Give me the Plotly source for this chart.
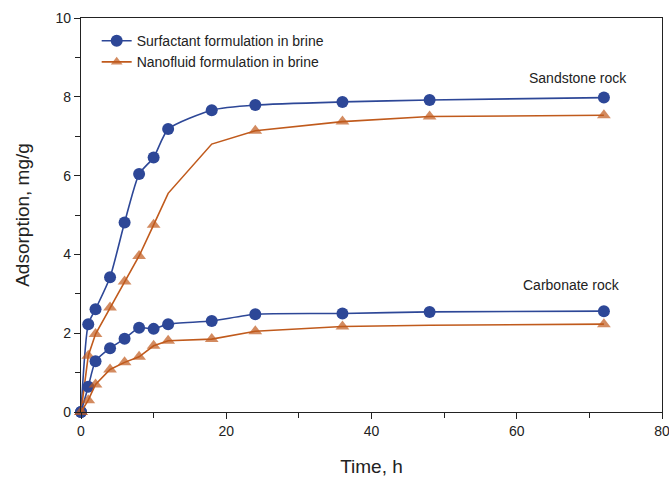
import plotly.graph_objects as go

# Sampling times (h)
time_h = [0, 1, 2, 4, 6, 8, 10, 12, 18, 24, 36, 48, 72]

# Adsorption (mg/g)
sandstone_surfactant = [0, 2.23, 2.61, 3.42, 4.81, 6.04, 6.46, 7.18, 7.66, 7.79, 7.87, 7.92, 7.98]
sandstone_nanofluid = [0, 1.43, 1.98, 2.65, 3.31, 3.96, 4.75, 5.55, 6.80, 7.14, 7.37, 7.50, 7.53]
carbonate_surfactant = [0, 0.64, 1.29, 1.62, 1.86, 2.14, 2.11, 2.23, 2.31, 2.48, 2.50, 2.54, 2.56]
carbonate_nanofluid = [0, 0.30, 0.70, 1.08, 1.26, 1.40, 1.68, 1.81, 1.85, 2.05, 2.17, 2.20, 2.23]

# Points measured without a plotted symbol
sandstone_nano_marked = [True] * 7 + [False, False] + [True] * 4
carbonate_nano_marked = [True] * 11 + [False, True]

BLUE = "#2d4797"
ORANGE = "#c05a1c"
FONT = "Liberation Sans, Arial, sans-serif"

fig = go.Figure()


def add_series(y, color, symbol, size, name, show, shape, marked=None):
    sizes = size if marked is None else [size if m else 0 for m in marked]
    fig.add_trace(go.Scatter(
        x=time_h, y=y, mode="lines+markers", name=name, showlegend=show,
        line=dict(color=color, width=1.6, shape=shape, smoothing=0.6),
        marker=dict(color=color, symbol=symbol, size=sizes,
                    line=dict(width=0)),
        cliponaxis=False,
    ))


add_series(sandstone_surfactant, BLUE, "circle", 12,
           "Surfactant formulation in brine", True, "spline")
add_series(sandstone_nanofluid, ORANGE, "triangle-up", 12,
           "Nanofluid formulation in brine", True, "linear", sandstone_nano_marked)
add_series(carbonate_surfactant, BLUE, "circle", 12,
           "Surfactant formulation in brine", False, "spline")
add_series(carbonate_nanofluid, ORANGE, "triangle-up", 12,
           "Nanofluid formulation in brine", False, "linear", carbonate_nano_marked)

fig.add_annotation(x=68.5, y=8.48, text="Sandstone rock", showarrow=False,
                   font=dict(size=14, color="#222222", family=FONT))
fig.add_annotation(x=67.6, y=3.22, text="Carbonate rock", showarrow=False,
                   font=dict(size=14, color="#222222", family=FONT))

axis_common = dict(
    showline=True, linecolor="#222222", linewidth=1.2, mirror=True,
    showgrid=False, zeroline=False, ticks="outside", ticklen=6,
    tickcolor="#222222", tickwidth=1.2, automargin=False,
    ticklabeloverflow="allow",
    tickfont=dict(size=14, color="#222222", family=FONT),
)

fig.update_xaxes(
    range=[0, 80], dtick=20, tick0=0,
    minor=dict(dtick=10, ticks="outside", ticklen=5, tickcolor="#222222"),
    title=dict(text="Time, h", font=dict(size=19, color="#222222", family=FONT),
               standoff=21),
    **axis_common,
)
fig.update_yaxes(
    range=[0, 10], dtick=2, tick0=0,
    minor=dict(dtick=1, ticks="outside", ticklen=5, tickcolor="#222222"),
    title=dict(text="Adsorption, mg/g", font=dict(size=19, color="#222222", family=FONT),
               standoff=20),
    **axis_common,
)

fig.update_layout(
    width=669, height=480,
    margin=dict(l=81, r=7, t=18, b=68),
    paper_bgcolor="white", plot_bgcolor="white",
    font=dict(family=FONT, color="#222222"),
    legend=dict(x=0.027, y=0.982, xanchor="left", yanchor="top",
                bgcolor="rgba(0,0,0,0)", borderwidth=0,
                font=dict(size=14, color="#222222", family=FONT),
                tracegroupgap=0, itemwidth=30),
)

fig.write_html("out.html")
